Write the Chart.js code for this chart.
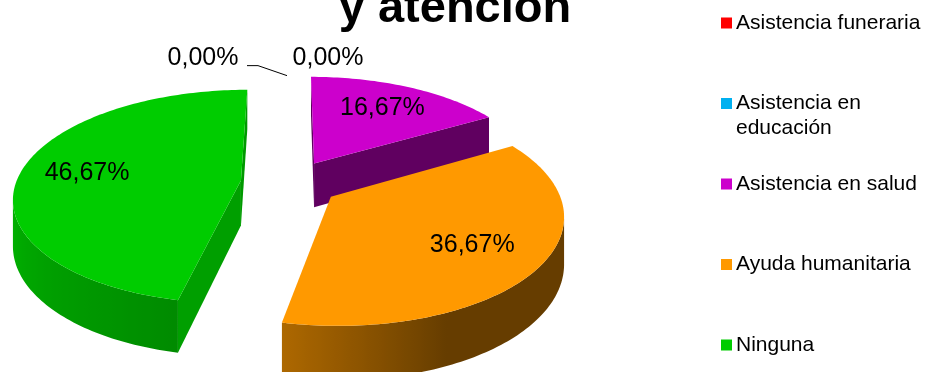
<!DOCTYPE html>
<html>
<head>
<meta charset="utf-8">
<script src="https://cdn.jsdelivr.net/npm/chart.js@4.4.0/dist/chart.umd.min.js"></script>
<style>
  html, body { margin: 0; padding: 0; background: #fff; }
  canvas { display: block; }
</style>
</head>
<body>
<canvas id="asistenciaChart" width="925" height="372"></canvas>
<script>
// datos de la encuesta
const categorias = ['Asistencia funeraria', 'Asistencia en educación', 'Asistencia en salud', 'Ayuda humanitaria', 'Ninguna'];
const respuestas = [0, 0, 5, 11, 14];
const colores = ['#FF0000', '#00B0F0', '#CC00CC', '#FF9900', '#00CC00'];
const titulo = 'y atención';

// ajustes del pastel 3D
const TILT = 0.467;     // aplastamiento vertical
const PERSP = 0.15;     // perspectiva (lo de delante se ve mas grande)
const DEPTH = 45;       // grosor del pastel en px
const EXPLODE = 0.22;   // separacion de las porciones (fraccion del radio)
const FONT = "'Liberation Sans', Arial, sans-serif";

// luz de las paredes segun el angulo (grados, 0 = derecha, 90 = frente)
const WALL_LIGHT = [[-90, 0.4], [66, 0.4], [102, 0.68], [180, 0.9], [270, 0.9]];
const FACE_LIGHT = [[-90, 0.75], [0, 0.75], [12, 0.78], [50, 0.47], [90, 0.47], [270, 0.47]];

function shade(hex, f) {
  const n = parseInt(hex.slice(1), 16);
  const r = Math.round(((n >> 16) & 255) * f);
  const g = Math.round(((n >> 8) & 255) * f);
  const b = Math.round((n & 255) * f);
  return `rgb(${r},${g},${b})`;
}

function lookup(table, x) {
  if (x <= table[0][0]) return table[0][1];
  for (let i = 1; i < table.length; i++) {
    if (x <= table[i][0]) {
      const [x0, y0] = table[i - 1];
      const [x1, y1] = table[i];
      return y0 + (y1 - y0) * (x - x0) / (x1 - x0);
    }
  }
  return table[table.length - 1][1];
}

function normDeg(rad) {
  let d = rad * 180 / Math.PI;
  while (d < -90) d += 360;
  while (d >= 270) d -= 360;
  return d;
}

function polyArea(pts) {
  let s = 0;
  for (let i = 0; i < pts.length; i++) {
    const p = pts[i], q = pts[(i + 1) % pts.length];
    s += p[0] * q[1] - q[0] * p[1];
  }
  return s;
}

function fillPoly(ctx, pts, fill) {
  ctx.beginPath();
  ctx.moveTo(pts[0][0], pts[0][1]);
  for (let i = 1; i < pts.length; i++) ctx.lineTo(pts[i][0], pts[i][1]);
  ctx.closePath();
  ctx.fillStyle = fill;
  ctx.fill();
}

function makeProj(arc) {
  const cx = arc.x, cy = arc.y, R = arc.outerRadius;
  return (u, v, z) => {
    const w = 1 / (1 - PERSP * v);
    return [cx + R * u * w, cy + R * TILT * v * w + DEPTH * z * w];
  };
}

function drawSlice(ctx, proj, a, b, color) {
  const m = (a + b) / 2;
  const ou = EXPLODE * Math.cos(m), ov = EXPLODE * Math.sin(m);
  const rim = (t, z) => proj(ou + Math.cos(t), ov + Math.sin(t), z);
  const ctr = z => proj(ou, ov, z);
  const steps = Math.max(8, Math.ceil((b - a) / 0.02));
  const ts = [];
  for (let k = 0; k <= steps; k++) ts.push(a + (b - a) * k / steps);

  // caras del corte
  [[a, -1, a - Math.PI / 2], [b, 1, b + Math.PI / 2]].forEach(([t, sign, n]) => {
    const q = [ctr(0), rim(t, 0), rim(t, 1), ctr(1)];
    if (sign * polyArea(q) > 0) fillPoly(ctx, q, shade(color, lookup(FACE_LIGHT, normDeg(n))));
  });

  // pared exterior, solo lo que mira al frente
  const runs = [];
  let cur = null;
  for (let k = 0; k < steps; k++) {
    const q = [rim(ts[k], 0), rim(ts[k + 1], 0), rim(ts[k + 1], 1), rim(ts[k], 1)];
    if (polyArea(q) < 0) {
      if (!cur) { cur = [k, k + 1]; runs.push(cur); } else cur[1] = k + 1;
    } else cur = null;
  }
  runs.forEach(([k0, k1]) => {
    const part = ts.slice(k0, k1 + 1);
    const pts = part.map(t => rim(t, 0)).concat(part.slice().reverse().map(t => rim(t, 1)));
    const xA = rim(part[0], 0)[0], xB = rim(part[part.length - 1], 0)[0];
    let fill = shade(color, lookup(WALL_LIGHT, normDeg(part[0])));
    if (Math.abs(xB - xA) > 1) {
      const grad = ctx.createLinearGradient(xA, 0, xB, 0);
      part.forEach(t => {
        const pos = Math.min(1, Math.max(0, (rim(t, 0)[0] - xA) / (xB - xA)));
        grad.addColorStop(pos, shade(color, lookup(WALL_LIGHT, normDeg(t))));
      });
      fill = grad;
    }
    fillPoly(ctx, pts, fill);
  });

  // tapa
  fillPoly(ctx, [ctr(0)].concat(ts.map(t => rim(t, 0))), color);
}

const pastel3d = {
  id: 'pastel3d',
  beforeDatasetsDraw(chart) {
    const ctx = chart.ctx;
    const arcs = chart.getDatasetMeta(0).data;
    const proj = makeProj(arcs[0]);
    const slices = arcs
      .map((arc, i) => ({arc, i}))
      .filter(s => s.arc.endAngle - s.arc.startAngle > 1e-6)
      .map(s => {
        const m = (s.arc.startAngle + s.arc.endAngle) / 2;
        return {...s, depthY: proj(EXPLODE * Math.cos(m), EXPLODE * Math.sin(m), 0)[1]};
      })
      .sort((p, q) => p.depthY - q.depthY);
    ctx.save();
    slices.forEach(s => drawSlice(ctx, proj, s.arc.startAngle, s.arc.endAngle, colores[s.i]));
    ctx.restore();
    return false;
  },
  afterDraw(chart) {
    const ctx = chart.ctx;
    const arcs = chart.getDatasetMeta(0).data;
    const proj = makeProj(arcs[0]);
    const total = respuestas.reduce((s, v) => s + v, 0);
    const pct = v => (v / total * 100).toFixed(2).replace('.', ',') + '%';

    ctx.save();
    ctx.fillStyle = '#000';
    ctx.textAlign = 'center';
    ctx.textBaseline = 'middle';
    ctx.font = '25px ' + FONT;

    // etiquetas de porcentaje
    let ceros = 0;
    arcs.forEach((arc, i) => {
      const a = arc.startAngle, b = arc.endAngle;
      if (b - a > 1e-6) {
        const m = (a + b) / 2;
        const ou = EXPLODE * Math.cos(m), ov = EXPLODE * Math.sin(m);
        const p = proj(ou + 0.7 * Math.cos(m), ov + 0.7 * Math.sin(m), 0);
        ctx.fillText(pct(respuestas[i]), p[0], p[1]);
      } else {
        // porciones vacias: etiquetas fuera, a los lados del borde
        const p = proj(Math.cos(a), Math.sin(a), 0);
        if (ceros === 0) {
          ctx.fillText(pct(respuestas[i]), p[0] - 87, p[1] - 34);
          ctx.beginPath();
          ctx.moveTo(p[0] - 43, p[1] - 26);
          ctx.lineTo(p[0] - 32, p[1] - 26);
          ctx.lineTo(p[0] - 3, p[1] - 16);
          ctx.strokeStyle = '#000';
          ctx.lineWidth = 1;
          ctx.stroke();
        } else {
          ctx.fillText(pct(respuestas[i]), p[0] + 38, p[1] - 34);
        }
        ceros++;
      }
    });

    // titulo (solo se ve la ultima linea)
    ctx.font = 'bold 47px ' + FONT;
    ctx.textBaseline = 'alphabetic';
    ctx.fillText(titulo, 455, 22);

    // leyenda
    ctx.font = '21px ' + FONT;
    ctx.textAlign = 'left';
    ctx.textBaseline = 'middle';
    categorias.forEach((nombre, i) => {
      const y = 23 + i * 80.5;
      ctx.fillStyle = colores[i];
      ctx.fillRect(721, y - 5.5, 11, 11);
      ctx.fillStyle = '#000';
      const words = nombre.split(' ');
      const lines = [];
      let line = '';
      words.forEach(w => {
        const test = line ? line + ' ' + w : w;
        if (line && ctx.measureText(test).width > 188) { lines.push(line); line = w; }
        else line = test;
      });
      lines.push(line);
      lines.forEach((l, j) => ctx.fillText(l, 736, y + j * 25));
    });
    ctx.restore();
  }
};

new Chart(document.getElementById('asistenciaChart'), {
  type: 'pie',
  data: {
    labels: categorias,
    datasets: [{
      data: respuestas,
      backgroundColor: colores,
      borderWidth: 0
    }]
  },
  options: {
    responsive: false,
    animation: false,
    devicePixelRatio: 1,
    radius: 225,
    layout: { padding: { left: 0, right: 345, top: 0, bottom: 6 } },
    plugins: {
      legend: { display: false },
      tooltip: { enabled: false },
      title: { display: false }
    }
  },
  plugins: [pastel3d]
});
</script>
</body>
</html>
